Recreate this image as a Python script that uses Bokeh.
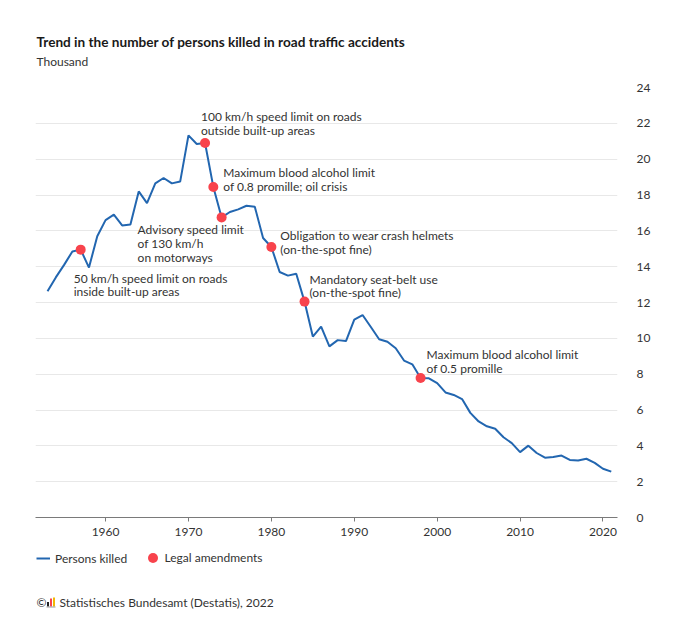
from bokeh.plotting import figure
from bokeh.models import Range1d, Legend, LegendItem, FixedTicker, ColumnDataSource
from bokeh.layouts import column
from bokeh.embed import file_html
from bokeh.resources import INLINE
from bokeh.core.properties import value

# ---------------- data ----------------
years = list(range(1953, 2022))
killed = [12.63, 13.4, 14.1, 14.85, 14.95, 13.95, 15.7, 16.6, 16.9, 16.3,
          16.35, 18.2, 17.55, 18.65, 18.95, 18.65, 18.75, 21.33, 20.85, 20.9,
          18.45, 16.75, 17.05, 17.2, 17.4, 17.35, 15.6, 15.1, 13.7, 13.5,
          13.6, 12.05, 10.1, 10.65, 9.55, 9.9, 9.85, 11.05, 11.3, 10.63,
          9.95, 9.81, 9.45, 8.76, 8.55, 7.79, 7.77, 7.5, 6.98, 6.84,
          6.61, 5.84, 5.36, 5.09, 4.95, 4.48, 4.15, 3.65, 4.01, 3.6,
          3.34, 3.38, 3.46, 3.21, 3.18, 3.28, 3.05, 2.72, 2.56]
amend_years = [1957, 1972, 1973, 1974, 1980, 1984, 1998]
amend_labels = [
    "50 km/h speed limit on roads\ninside built-up areas",
    "100 km/h speed limit on roads\noutside built-up areas",
    "Maximum blood alcohol limit\nof 0.8 promille; oil crisis",
    "Advisory speed limit\nof 130 km/h\non motorways",
    "Obligation to wear crash helmets\n(on-the-spot fine)",
    "Mandatory seat-belt use\n(on-the-spot fine)",
    "Maximum blood alcohol limit\nof 0.5 promille",
]
x_ticks = [1960, 1970, 1980, 1990, 2000, 2010, 2020]
y_ticks = [0, 2, 4, 6, 8, 10, 12, 14, 16, 18, 20, 22, 24]

title_text = "Trend in the number of persons killed in road traffic accidents"
unit_text = "Thousand"
series_name = "Persons killed"
amend_name = "Legal amendments"
source_text = "Statistisches Bundesamt (Destatis), 2022"

# label offsets from their dot, in pixels (layout only)
label_dx = [-7, -4, 10, -84, 9, 5, 6]
label_dy = [28, -27, -15, 12, -12, -23, -24]

# ---------------- style / layout ----------------
FONT = "Lato"
BLUE = "#2266b0"
RED = "#f8434c"
TXT = "#333333"
W = 670
FL, FR = 35, 617          # frame left / right (page px)
H_HEAD = 77
H_MAIN = 466
H_FOOT = 72


def blank(height):
    f = figure(width=W, height=height, x_range=Range1d(FL, FR), y_range=Range1d(height, 0),
               output_backend="svg", toolbar_location=None, x_axis_type=None, y_axis_type=None,
               min_border_left=FL, min_border_right=W - FR, min_border_top=0, min_border_bottom=0)
    f.outline_line_color = None
    f.grid.visible = False
    return f


# ---------------- header ----------------
h = blank(H_HEAD)
h.text(x=[36], y=[41], text=[title_text], text_font=value(FONT), text_font_size="13.6px",
       text_font_style="bold", text_color="#1a1a1a", text_baseline="middle")
h.text(x=[36], y=[61], text=[unit_text], text_font=value(FONT), text_font_size="12px",
       text_color=TXT, text_baseline="middle")

# ---------------- main chart ----------------
amend_vals = [killed[years.index(y)] for y in amend_years]

p = figure(width=W, height=H_MAIN, x_range=Range1d(1951.55, 2021.75), y_range=Range1d(0, 24),
           output_backend="svg", toolbar_location=None, y_axis_location="right",
           min_border_left=FL, min_border_right=W - FR, min_border_top=10, min_border_bottom=26)
p.outline_line_color = None

p.xgrid.visible = False
p.ygrid.ticker = FixedTicker(ticks=y_ticks)
p.ygrid.grid_line_color = "#e8e8e8"
p.ygrid.grid_line_width = 1

xa = p.xaxis[0]
xa.ticker = FixedTicker(ticks=x_ticks)
xa.axis_line_color = "#7a7a7a"
xa.major_tick_line_color = "#7a7a7a"
xa.major_tick_out = 4
xa.major_tick_in = 0
xa.minor_tick_line_color = None
xa.major_label_text_font = FONT
xa.major_label_text_font_size = "12px"
xa.major_label_text_color = TXT
xa.major_label_standoff = 6

ya = p.yaxis[0]
ya.ticker = FixedTicker(ticks=y_ticks)
ya.axis_line_color = None
ya.major_tick_line_color = None
ya.minor_tick_line_color = None
ya.major_label_text_font = FONT
ya.major_label_text_font_size = "12px"
ya.major_label_text_color = TXT
ya.major_label_standoff = 13

src = ColumnDataSource(dict(x=years, y=killed))
p.line("x", "y", source=src, line_color=BLUE, line_width=2)

asrc = ColumnDataSource(dict(x=amend_years, y=amend_vals, label=amend_labels,
                             dx=label_dx, dy=[d - 7 for d in label_dy]))
p.scatter("x", "y", source=asrc, size=10, fill_color=RED, line_color=None)
p.text("x", "y", text="label", source=asrc, x_offset="dx", y_offset="dy",
       text_font=value(FONT), text_font_size="12px", text_color=TXT,
       text_baseline="top", text_align="left", text_line_height=0.92)

# ---------------- footer (legend + source) ----------------
f = blank(H_FOOT)
# off-canvas stand-ins so the legends can draw their glyphs
lr = f.line(x=[0, 1], y=[-500, -500], line_color=BLUE, line_width=2)
sr = f.scatter(x=[0], y=[-500], size=10, fill_color=RED, line_color=None)
leg_style = dict(orientation="horizontal", margin=0, padding=0,
                 label_text_font=FONT, label_text_font_size="12px", label_text_color=TXT,
                 border_line_color=None, background_fill_alpha=0)
leg1 = Legend(items=[LegendItem(label=series_name, renderers=[lr])],
              location=(1, H_FOOT - 23), glyph_width=14, glyph_height=16, label_standoff=5,
              **leg_style)
leg2 = Legend(items=[LegendItem(label=amend_name, renderers=[sr])],
              location=(104.5, H_FOOT - 27), glyph_width=25, glyph_height=25, label_standoff=0,
              **leg_style)
f.add_layout(leg1, "center")
f.add_layout(leg2, "center")

f.text(x=[36], y=[59], text=["\u00a9"], text_font=value(FONT), text_font_size="12px",
       text_color=TXT, text_baseline="middle")
f.quad(left=[46.5, 49.5, 52.5], right=[48.5, 51.5, 54.5], top=[58.5, 55, 54],
       bottom=[63, 63, 63], fill_color=["#222222", RED, "#f2b705"], line_color=None)
f.segment(x0=[46], y0=[63.5], x1=[55], y1=[63.5], line_color="#999999", line_width=1)
f.text(x=[59], y=[59], text=[source_text], text_font=value(FONT), text_font_size="12px",
       text_color=TXT, text_baseline="middle")

layout = column(h, p, f, spacing=0)
open("out.html", "w").write(file_html(layout, INLINE))
